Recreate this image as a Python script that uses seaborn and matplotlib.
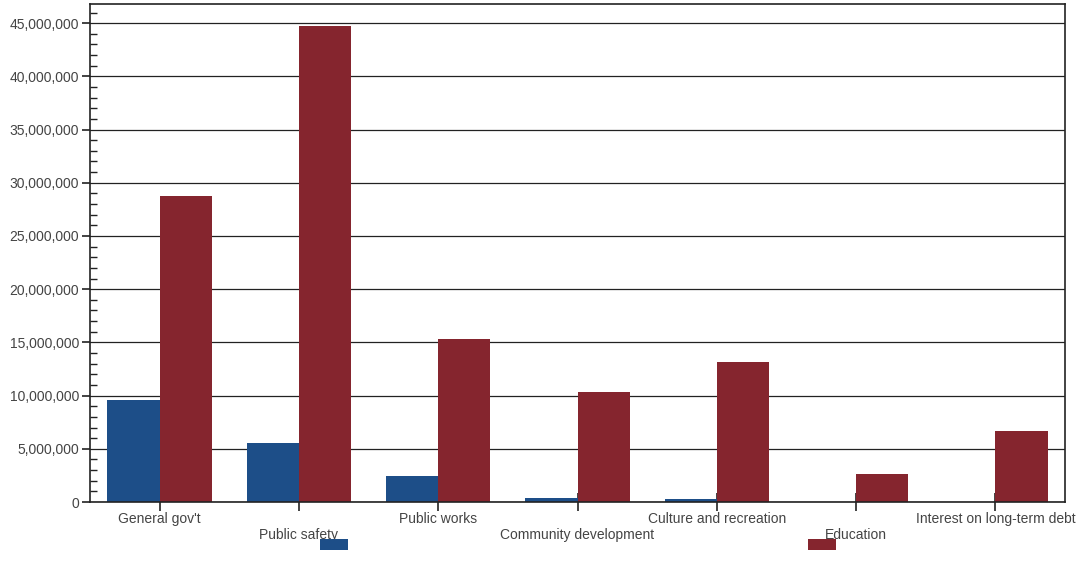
import matplotlib
matplotlib.use("Agg")
import matplotlib.pyplot as plt
import seaborn as sns
import pandas as pd
from matplotlib.ticker import MultipleLocator, FuncFormatter

categories = ["General gov't", "Public safety", "Public works", "Community development",
              "Culture and recreation", "Education", "Interest on long-term debt"]
series_a = [9.6e6, 5.5e6, 2.4e6, 0.4e6, 0.28e6, 0.0, 0.0]
series_b = [28.8e6, 44.7e6, 15.35e6, 10.35e6, 13.2e6, 2.65e6, 6.7e6]
series_names = ["Program revenues", "Expenses"]
colors = ["#1d4e88", "#85252e"]

df = pd.DataFrame({
    "category": categories * 2,
    "value": series_a + series_b,
    "series": [series_names[0]] * len(categories) + [series_names[1]] * len(categories),
})

sns.set_theme(style="white")
plt.rcParams["font.family"] = ["Liberation Sans", "DejaVu Sans"]
plt.rcParams["ytick.direction"] = "out"

fig = plt.figure(figsize=(10.84, 5.82), dpi=100)
ax = fig.add_axes([90 / 1084, 80 / 582, (1065 - 90) / 1084, (502 - 4) / 582])

sns.barplot(data=df, x="category", y="value", hue="series", order=categories,
            hue_order=series_names, palette=colors, width=0.75, gap=0,
            saturation=1, edgecolor="none", linewidth=0, ax=ax, legend=True)

ax.set_ylim(0, 46.8e6)
ax.set_xlim(-0.5, len(categories) - 0.5)
ax.yaxis.set_major_locator(MultipleLocator(5e6))
ax.yaxis.set_minor_locator(MultipleLocator(1e6))
ax.yaxis.set_major_formatter(FuncFormatter(lambda v, p: f"{int(v):,}"))
ax.grid(True, axis="y", which="major", color="#222222", linewidth=0.9)
ax.set_axisbelow(True)
for s in ax.spines.values():
    s.set_color("#222222")
    s.set_linewidth(1.2)

ax.set_xlabel("")
ax.set_ylabel("")
labels = [c if i % 2 == 0 else "\n" + c for i, c in enumerate(categories)]
ax.set_xticks(range(len(categories)))
ax.set_xticklabels(labels, fontsize=10, color="#444444", linespacing=1.15)
ax.tick_params(axis="x", direction="inout", length=13, width=1.2, color="#222222", pad=1,
               bottom=True)
ax.yaxis.set_tick_params(which="major", direction="out", length=6, width=1.2,
                         color="#222222", labelsize=10, labelcolor="#444444", pad=2, left=True)
ax.yaxis.set_tick_params(which="minor", direction="in", length=5, width=1,
                         color="#222222", left=True)

handles, _ = ax.get_legend_handles_labels()
ax.get_legend().remove()
centers = [334, 822]
for h, cx in zip(handles, centers):
    leg = fig.legend([h], [""], loc="center", bbox_to_anchor=(cx / 1084, 1 - 545.5 / 582),
                     frameon=False, handlelength=2.3, handleheight=0.9, handletextpad=0,
                     fontsize=9, borderpad=0)
    fig.add_artist(leg)

fig.savefig("out.png", dpi=100)
